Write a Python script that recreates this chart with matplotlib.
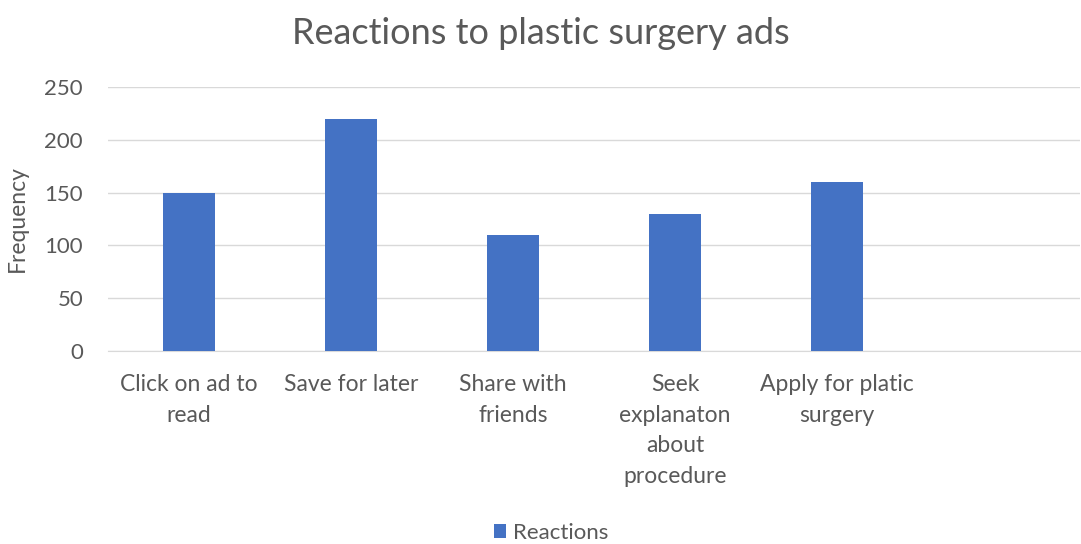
import matplotlib
matplotlib.use("Agg")
import matplotlib.pyplot as plt
import numpy as np

# data
categories = ["Click on ad to\nread", "Save for later", "Share with\nfriends",
              "Seek\nexplanaton\nabout\nprocedure", "Apply for platic\nsurgery", ""]
reactions = [150, 220, 110, 130, 160, None]
yticks = [0, 50, 100, 150, 200, 250]

plt.rcParams['font.family'] = ['Lato', 'DejaVu Sans']
grey = '#595959'

fig = plt.figure(figsize=(10.81, 5.44), dpi=100)
ax = fig.add_axes([0.100, 0.355, 0.899, 0.485])

x = np.arange(len(categories))
vals = [v if v is not None else 0 for v in reactions]
ax.bar(x, vals, width=0.32, color='#4472C4', label='Reactions', zorder=3)

ax.set_xlim(-0.5, len(categories) - 0.5)
ax.set_ylim(0, 250)
ax.set_yticks(yticks)
ax.set_xticks(x)
ax.set_xticklabels(categories, fontsize=16.5, color=grey, linespacing=1.55)
ax.tick_params(axis='y', labelsize=16, labelcolor=grey, length=0, pad=18)
ax.tick_params(axis='x', length=0, pad=17)
ax.grid(axis='y', color='#d9d9d9', linewidth=1, zorder=0)
for s in ['top', 'right', 'left']:
    ax.spines[s].set_visible(False)
ax.spines['bottom'].set_color('#d9d9d9')

ax.set_ylabel('Frequency', fontsize=16.5, color=grey, labelpad=12)
fig.suptitle('Reactions to plastic surgery ads', fontsize=26, color=grey, y=0.968)

fig.legend(loc='lower center', bbox_to_anchor=(0.51, -0.035), frameon=False,
           fontsize=16, labelcolor=grey, handlelength=0.55, handleheight=0.55,
           handletextpad=0.3)

fig.savefig('out.png', dpi=100)
